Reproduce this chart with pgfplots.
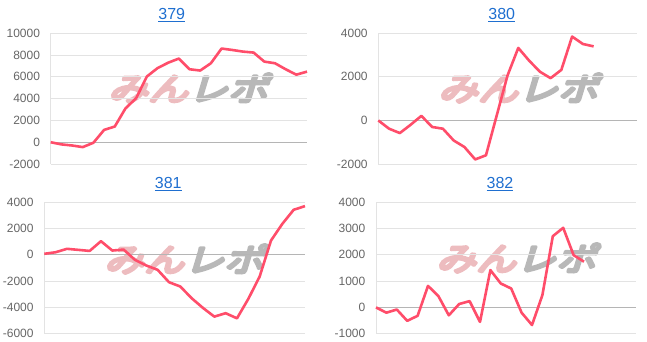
\documentclass[border=0pt]{standalone}
\usepackage{fontspec}
\setmainfont{Liberation Sans}
\newfontfamily\cjk[FakeSlant=0.3,FakeStretch=1.25]{Noto Sans CJK JP}
\usepackage{pgfplots}
\pgfplotsset{compat=1.18}
\definecolor{linec}{HTML}{FF4D6A}
\definecolor{ttl}{HTML}{1F6FD0}
\definecolor{tick}{HTML}{666666}
\definecolor{gridc}{HTML}{E3E3E3}
\definecolor{zeroc}{HTML}{B5B5B5}
\definecolor{wmpink}{HTML}{EDBCBF}
\definecolor{wmgray}{HTML}{B8B8B8}
\pgfplotsset{
  panel/.style={
    scale only axis,
    axis x line=none,
    axis y line=left,
    y axis line style={-,draw=gridc},
    xmin=0,
    xtick=\empty,
    ymajorgrids,
    grid style={draw=gridc, line width=0.8pt},
    major tick length=0pt,
    tick label style={font=\fontsize{12}{12}\selectfont, text=tick},
    yticklabel style={inner sep=0pt, xshift=-10.5pt},
    scaled y ticks=false,
    /pgf/number format/assume math mode=true,
    /pgf/number format/1000 sep={},
    extra y ticks={0},
    extra y tick labels={},
    extra y tick style={grid style={draw=zeroc, line width=0.8pt}},
    clip=false,
  },
  dline/.style={linec, line width=2.6pt, line join=round, no markers},
}
\newcommand{\wm}{{\special{pdf:code q 2 Tr 3 w 1 j}\cjk\fontsize{32}{32}\selectfont\textcolor{wmpink}{みん}\textcolor{wmgray}{レポ}\special{pdf:code Q}}}
\begin{document}
\begin{tikzpicture}
\useasboundingbox (0pt,0pt) rectangle (647pt,342pt);
% watermarks
\node at (188pt,254pt) {\wm};
\node at (518pt,254pt) {\wm};
\node at (184pt,83pt) {\wm};
\node at (516pt,84pt) {\wm};
% titles
\node[ttl, font=\fontsize{16}{16}\selectfont] at (171.7pt,327pt) {\underline{379}};
\node[ttl, font=\fontsize{16}{16}\selectfont] at (501.7pt,327pt) {\underline{380}};
\node[ttl, font=\fontsize{16}{16}\selectfont] at (168.3pt,158pt) {\underline{381}};
\node[ttl, font=\fontsize{16}{16}\selectfont] at (500pt,158pt) {\underline{382}};

\begin{axis}[panel, at={(50.7pt,178pt)}, anchor=south west,
  width=256.3pt, height=130.7pt, xmax=24, ymin=-2000, ymax=10000,
  ytick={-2000,0,2000,4000,6000,8000,10000}]
\addplot[dline] coordinates {
(0,0) (1,-200) (2,-300) (3,-450) (4,-50) (5,1130) (6,1440) (7,3100) (8,4040)
(9,6030) (10,6800) (11,7300) (12,7680) (13,6700) (14,6580) (15,7250) (16,8600)
(17,8470) (18,8320) (19,8230) (20,7400) (21,7250) (22,6700) (23,6200) (24,6480)};
\end{axis}

\begin{axis}[panel, at={(378.3pt,178pt)}, anchor=south west,
  width=258.4pt, height=130.7pt, xmax=24, ymin=-2000, ymax=4000,
  ytick={-2000,0,2000,4000}]
\addplot[dline] coordinates {
(0,0) (1,-380) (2,-580) (3,-200) (4,210) (5,-300) (6,-380) (7,-920) (8,-1220)
(9,-1790) (10,-1600) (11,230) (12,2060) (13,3330) (14,2750) (15,2240) (16,1940)
(17,2320) (18,3850) (19,3510) (20,3400)};
\end{axis}

\begin{axis}[panel, at={(44.3pt,8.3pt)}, anchor=south west,
  width=260.7pt, height=131.4pt, xmax=23, ymin=-6000, ymax=4000,
  ytick={-6000,-4000,-2000,0,2000,4000}]
\addplot[dline] coordinates {
(0,80) (1,200) (2,460) (3,380) (4,300) (5,1040) (6,330) (7,400) (8,-380)
(9,-810) (10,-1140) (11,-2080) (12,-2410) (13,-3300) (14,-4040) (15,-4700)
(16,-4440) (17,-4830) (18,-3350) (19,-1650) (20,1090) (21,2360) (22,3430) (23,3710)};
\end{axis}

\begin{axis}[panel, at={(376pt,8.3pt)}, anchor=south west,
  width=260pt, height=131.4pt, xmax=25, ymin=-1000, ymax=4000,
  ytick={-1000,0,1000,2000,3000,4000}]
\addplot[dline] coordinates {
(0,0) (1,-200) (2,-80) (3,-510) (4,-320) (5,820) (6,430) (7,-300) (8,130)
(9,240) (10,-550) (11,1420) (12,910) (13,720) (14,-200) (15,-670) (16,470)
(17,2710) (18,3030) (19,1990) (20,1740)};
\end{axis}
\end{tikzpicture}
\end{document}
